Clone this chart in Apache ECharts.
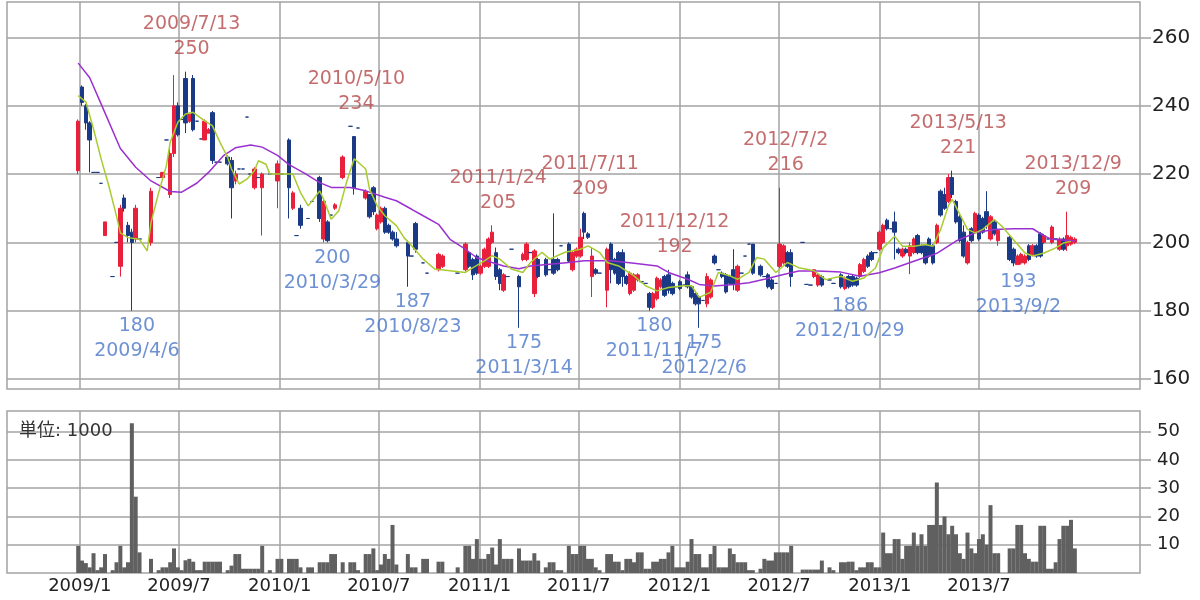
<!DOCTYPE html>
<html><head><meta charset="utf-8">
<script src="https://cdn.jsdelivr.net/npm/echarts@6/dist/echarts.min.js"></script>
<style>html,body{margin:0;padding:0;background:#fff}#c{width:1200px;height:600px}</style>
</head><body><div id="c"></div>
<script>
// Weekly candles, week k = Monday 2008/12/29 + 7k days. Each row: [open, close, low, high] or null (no trade)
const ohlc = [
[221,235.5,220,236],[245.5,241,240,246],[240,235,233,240.5],[235,230,220.5,235.5],[220.5,220.5,220.5,220.5],
[220.5,220.5,220.5,220.5],[217.3,217.3,217.3,217.3],[202,206,202,206],null,[190,190,190,190],
[200,200,200,200],[193,210,190,211],[213,210,209,214],[205,202,200,206],[203,200,180,204],
[201,210,200,211],[201,201,201,201],null,null,[200,215,199,216],
null,[219,219,219,219],[219,220.5,219,220.5],[230,230,230,230],[214,226,213,228],
[226,240,225,249],[240,231.5,231,241],[236,236,236,236],[248,235,232,250],[235.5,237.5,235,238],
[248,233,232.5,249],[235.5,235.5,235.5,235.5],[230.3,230.3,230.3,230.3],[230,235.5,230,236],[232,233,232,233.5],
[238,224,223,238.5],[223.5,223.5,223.5,223.5],[223.5,223.5,223.5,223.5],null,[225,223,222.5,225.5],
[224,216,207,225],[218,220,217,221],[221.5,221.5,221.5,221.5],[221.5,221.5,221.5,221.5],[236.7,236.7,236.7,236.7],
[220,220,220,220],[216,221.5,215.5,222],[219,219,219,219],[216,220,202,220.5],null,
[220,220,220,220],null,[218,223,210,224],[220,220,220,220],null,
[230,216,207,230.5],[210,214.5,209.5,215],[202,202,202,202],[210,205,204,211],null,
[207,207,207,207],[212,212,212,212],null,[219,207,206,219.5],[201,212,200,213],
[206,200.5,200,206.5],[208,208,208,208],[210,211,209.5,211.5],null,[219,225,218.5,225.5],
null,[234,234,234,234],[231,216,214,231],[233.5,233.5,233.5,233.5],null,
[213,215,212.5,215.5],[214,207.5,207,214],[216,209,208,216.5],[204,208,203.5,208.5],[206,210,205.5,210.5],
[210,203,202.5,210.5],[205,203,202.5,205.5],[203,201,200.5,203.5],[201,199,198.5,203],null,
null,[200,196,187,200.5],[196,196,196,196],[205.5,198,197,206],null,
[194,194,194,194],[191,191,191,191],null,null,[192,196.5,191.5,197],
[193,196,192.5,196.5],null,null,null,[191,191,191,191],
null,[192,199.5,191.5,200],[197,193,192.5,197.5],[195,190.5,189,195.5],[196,191,190.5,196.5],
[191,193,190.5,193.5],[193,198,192.5,198.5],[193,201,192.5,201.5],[200,203,199.5,205],[197,190,189,198.5],
[192,188,186,192.5],[186,190.5,185.5,191],[190,190,190,190],[198,198,198,198],null,
[190,187,175,190.5],[195,196.5,194.5,197],[195,199.5,194.5,200],[197,197,197,197],[185,197.5,184,198],
[195,190,189.5,195.5],null,[195,190.5,190,195.5],[192,192,192,192],[195,191,190.5,208.5],
[195,192,191.5,195.5],[199,199,199,199],null,[199.5,194.5,194,200],[192,197,191.5,197.5],
[196,198,195.5,198.5],[196,201.5,195.5,204],[208.5,203,201,209],[202.5,201.5,201,203],[190,196,184,198.5],
[192,191,190.5,192.5],[191,191,191,191],null,[186,198,181,198.5],[199.5,192,188,200],
[195,191,190.5,195.5],[197,188,187.5,197.5],[197,190,187,198],[190,188,187.5,190.5],[185,191,184.5,191.5],
[186,190.5,185.5,191],[189,190.5,188.5,191],[188.5,188.5,188.5,188.5],[188,188,188,188],[185,181,180,185.5],
[181,185,180.5,185.5],[183.5,189.5,183,190],[187,189,186.5,189.5],[190,184.5,184,190.5],[190.5,186,185,192],
[188,185,184.5,188.5],[187,187,187,187],[188.5,186.5,186,189],[187.5,187.5,187.5,187.5],[190.5,187,186.5,191.5],
[187,184,183.5,187.5],[185,182,181.5,185.5],[184,182,175,184.5],[183,183,183,183],[182,190,181,191],
[184,189,183.5,189.5],[196,194,193.5,196.5],[192,192,192,192],[191,190,189.5,191.5],[190.5,185.5,185,191],
[190,188,187.5,190.5],[192,188,186,198],[186,193,185.5,193.5],[191,191,191,191],[196,196,196,196],
[199.5,199.5,199.5,199.5],[199.5,191,190.5,199.5],null,[193,190.5,190,193.5],[190,190,190,190],
[190.5,187,186.5,191],[189,186.5,186,189.5],[188,188,188,188],[193,199.5,192.5,216],[194,199,193.5,199.5],
[197,193,192.5,197.5],[197,190,187,198],null,null,[200,200,200,200],
[187.7,187.7,187.7,187.7],[187.5,187.5,187.5,187.5],[190,192,189.5,192],[187.5,190.5,187,191],[190,187.5,187,190.5],
null,[189,189,189,189],[188,188,188,188],null,[190.5,187,186.5,191],
[186.5,189.5,186,190],[190,187,186.5,190.5],[190,187.5,187,190.5],[189.5,187.5,187,190],[190,193.5,189.5,194],
[191.5,195,191,195.5],[196,193,192.5,196.5],[197,195,194.5,197.5],[197,197,197,197],[198,203,197.5,203.5],
[200,205,199.5,205.5],[206.5,204,203.5,207],[204,204,204,204],[206,203,195,209],[198,197,196.5,198.5],
[196,198,195.5,198.5],[198,197,196.5,198.5],[196,199,190.7,200],[197,201,196.5,201.5],[202,197,196.5,202.5],
[199,197,196.5,199.5],[199,194,193.5,199.5],[201,196,195.5,201.5],[199,194,193.5,199.5],[200,205,199.5,205.5],
[215,208,207.5,215.5],[214,210,209.5,216],[212,219,211.5,220],[219,214,213,221],[212,206,205.5,212.5],
[207.5,200.5,200,208],[203,196,195.5,205],[194,200,193.5,200.5],[204,200.5,200,204.5],[203,208.5,202.5,209],
[208,201,200.5,208.5],[207,203,202.5,207.5],[209,205,204,215],[201,207.5,200.5,208],[206,202.5,202,206.5],
[200.5,203.5,199,204],null,null,[201.5,195,194.5,202],[198,194,193,198.5],
[193.5,196,193.5,196.5],[194,196.5,193.5,197],[194,196,193.5,196.5],[199,195,194.5,199.5],[196.5,199,196,199.5],
[199,196,195.5,199.5],[202.5,196,195.5,203],[200,202,199.5,202.5],[201,201,201,201],[200,204.5,199.5,205],
[201,201,201,201],[198,201,197.5,201.5],[201,198,197.5,201.5],[199,202,197.5,209],[199.5,201.5,199,202],
[200,201,199.5,201.5]
];
// Weekly volume, unit 1000
const volumes = [
9.6,4.4,3.5,2,7,1,2,6.7,0,1, 3.8,9.6,2,3.8,53,27,7.3,0,0,5,
0,1,2,2,3.8,8.7,2,1,4.5,5, 4,1,1,4,4,4,4,4,0,1,
2.6,6.7,6.7,1.5,1.5,1.5,1.5,1.5,9.6,0, 1,0,5,5,0,5,5,5,2,0,
2,2,0,3.8,3.8,3.8,6.7,6.7,0,3.8, 0,3.8,3.8,1,0,6.7,6.7,8.7,1,3,
6.7,5,17,3,0,0,6.7,2,2,0, 5,5,0,0,4,4,0,0,0,2,
0,9.6,9.6,5,12,5,5,6.7,9,3, 12,5,5,5,0,8.7,4.4,4.4,4.4,7,
4.4,0,2,3.8,3.8,1,1,0,9.6,6.7, 6.7,9.6,9.6,5,5,2,1,0,6.7,6.7,
4,4,1,5,5,3.8,7.3,7.3,1.5,1.5, 4,4,5,5,7.3,9.6,2,2,2,4,
12,6.7,6.7,2,2,6.7,9.6,2,2,2, 8.7,6.7,3.8,3.8,3.8,1,1,0,1.5,5,
4.4,4.4,7.3,7.3,7.3,7.3,9.6,0,0,1.2, 1.2,1.2,1.2,1.2,4.4,0,2,1,0,3.8,
3.8,4,4,1,2,2,3.8,3.8,2,2, 14.3,7,7,12,12,5,9.6,9.6,14.3,9.6,
13.7,9.6,17,17,32,17,20,13.7,16.7,13.7, 7,5,14.3,8.7,7,12,13.7,10,24,7,
7,0,0,8.7,8.7,17,17,7,5,4, 4,16.7,16.7,1.5,1.5,3.8,12,16.7,16.7,18.8,
8.7
];
// Moving averages: [week index, value]
const maShort = [[0,243],[2,241.1],[4,233.2],[6,224.4],[8,216.5],[10,207.7],[11,202.8],[13,201.4],[16,200.9],[18,197.5],
[19,205.8],[21,214.6],[23,222.4],[24,229.3],[26,235.2],[28,237.6],[30,238.1],[33,235.6],[35,234.2],[37,229.3],
[39,224.9],[40,221.5],[42,217.1],[44,218.5],[46,221],[47,223.9],[49,222.9],[50,220],[53,220],[56,220],
[58,214.6],[60,210.7],[62,213.6],[63,215.1],[64,212.7],[66,206.8],[68,209.3],[70,217.6],[72,224.5],[75,221.5],
[76,215.6],[78,210.7],[80,207.8],[83,204.9],[85,201.4],[87,199],[90,195.1],[93,192.2],[97,191.7],[101,191.2],
[103,192.6],[106,194.6],[108,196.1],[110,195.1],[113,192.2],[116,191.2],[118,194.1],[121,197.1],[123,195.1],[127,197.1],
[131,198],[133,199],[136,197.1],[138,194.1],[141,193.1],[145,190.2],[148,187.3],[151,185.8],[154,186.8],[158,187.3],
[160,187.3],[162,183.9],[165,185.4],[167,191.2],[170,190.2],[172,189.2],[175,191.2],[177,195.6],[179,195.1],[182,191.2],
[185,194.1],[188,192.6],[192,191.7],[195,189.1],[199,190.1],[202,188.6],[205,189.6],[208,192.5],[210,198.4],[213,201.8],
[215,198.9],[218,198.9],[221,199.4],[223,198.9],[225,203.8],[227,210.7],[228,212.6],[230,208.2],[232,203.8],[234,202.8],
[236,203.8],[239,206.7],[241,204.7],[244,200.8],[247,196.9],[249,196],[252,196.9],[255,198.4],[257,199.8],[259,200.3]];
const maLong = [[0,252.5],[3,248.2],[6,240.5],[11,227.5],[15,222],[19,218],[24,214.9],[27,214.7],[31,217.4],[34,220.5],
[38,225.5],[41,227.7],[45,228.5],[48,227.9],[52,225.5],[55,222.8],[59,220.3],[63,217.5],[66,216.1],[71,216.1],
[75,215.1],[80,213.2],[83,212.2],[87,209.7],[90,207.8],[94,205.3],[97,200.9],[101,198],[104,195.5],[108,194.1],
[111,193.1],[115,192.3],[118,193.1],[123,193.6],[128,194.1],[132,194.6],[139,194.6],[145,193.9],[151,193.1],[154,191.2],
[159,189.2],[162,187.7],[166,187.2],[171,187.7],[175,188.2],[179,189.2],[184,190.6],[188,191.6],[193,191.6],[199,191.3],
[204,190.1],[209,191.1],[213,192.5],[218,194.5],[224,196.8],[229,200.4],[234,202.8],[239,203.8],[244,204],[249,204],
[252,201.9],[254,200.9],[258,200.6],[260,200.4]];
// Annotated highs / lows
const hiDates = ['2009/7/13','2010/5/10','2011/1/24','2011/7/11','2011/12/12','2012/7/2','2013/5/13','2013/12/9'];
const hiValues = [250,234,205,209,192,216,221,209];
const loDates = ['2009/4/6','2010/3/29','2010/8/23','2011/3/14','2011/11/7','2012/2/6','2012/10/29','2013/9/2'];
const loValues = [180,200,187,175,180,175,186,193];
// Axis ticks
const xTicks = ['2009/1','2009/7','2010/1','2010/7','2011/1','2011/7','2012/1','2012/7','2013/1','2013/7'];
const priceTicks = [160,180,200,220,240,260];
const volTicks = [10,20,30,40,50];

const weekTime = k => new Date(2008, 11, 29 + 7 * k).getTime();
const parseDay = s => { const p = s.split('/').map(Number); return new Date(p[0], p[1] - 1, p[2] || 1).getTime(); };
const tickTimes = xTicks.map(parseDay);
const xMin = new Date(2008, 7, 21).getTime();
const xMax = new Date(2014, 3, 21).getTime();

const candleData = [];
ohlc.forEach((r, k) => { if (r) candleData.push([weekTime(k), r[0], r[1], r[2], r[3]]); });
const volData = [];
volumes.forEach((v, k) => { if (v > 0) volData.push([weekTime(k), v]); });

const FONT = 'DejaVu Sans';
const GRID_C = '#a3a3a3';
const UP = '#e8203c', DOWN = '#1b3a86';

function xAxisCfg(gi, showLabel) {
  return {
    type: 'value', gridIndex: gi, min: xMin, max: xMax, scale: true,
    axisLine: { show: false },
    axisTick: { show: false, customValues: tickTimes },
    axisLabel: {
      show: showLabel, customValues: tickTimes, hideOverlap: false,
      formatter: v => { const d = new Date(v); return d.getFullYear() + '/' + (d.getMonth() + 1); },
      color: '#222', fontSize: 18, fontFamily: FONT, margin: 4
    },
    splitLine: { show: true, lineStyle: { color: GRID_C, width: 1.5 } }
  };
}
function yAxisCfg(gi, min, max, ticks, fs, margin) {
  return {
    type: 'value', gridIndex: gi, position: 'right', min, max,
    axisLine: { show: false },
    axisTick: { show: true, inside: false, length: 11, customValues: ticks, lineStyle: { color: GRID_C, width: 1.5 } },
    axisLabel: { customValues: ticks, color: '#222', fontSize: fs, fontFamily: FONT, margin },
    splitLine: { show: true, lineStyle: { color: GRID_C, width: 1.5 } }
  };
}

const chart = echarts.init(document.getElementById('c'), null, { renderer: 'canvas' });
chart.setOption({
  animation: false,
  backgroundColor: '#fff',
  textStyle: { fontFamily: FONT },
  title: { text: '単位: 1000', left: 14, top: 417, textStyle: { fontSize: 18, fontWeight: 'normal', color: '#333', fontFamily: "'DejaVu Sans', 'Noto Sans CJK JP'" } },
  grid: [
    { left: 7, top: 2, width: 1133, height: 387, show: true, borderColor: GRID_C, borderWidth: 1.5 },
    { left: 7, top: 411, width: 1133, height: 162, show: true, borderColor: GRID_C, borderWidth: 1.5 }
  ],
  xAxis: [xAxisCfg(0, false), xAxisCfg(1, true)],
  yAxis: [yAxisCfg(0, 157.07, 270.4, priceTicks, 20, 12), yAxisCfg(1, 0, 57.3, volTicks, 18, 17)],
  series: [
    {
      type: 'candlestick', xAxisIndex: 0, yAxisIndex: 0, data: candleData,
      encode: { x: 0, y: [1, 2, 3, 4] }, barWidth: 4,
      itemStyle: { color: UP, color0: DOWN, borderColor: UP, borderColor0: DOWN, borderColorDoji: DOWN, borderWidth: 1 }
    },
    {
      type: 'line', xAxisIndex: 0, yAxisIndex: 0, data: maLong.map(p => [weekTime(p[0]), p[1]]),
      showSymbol: false, smooth: false, lineStyle: { color: '#9b30d0', width: 1.5 }, z: 3
    },
    {
      type: 'line', xAxisIndex: 0, yAxisIndex: 0, data: maShort.map(p => [weekTime(p[0]), p[1]]),
      showSymbol: false, smooth: false, lineStyle: { color: '#a8cc30', width: 1.5 }, z: 4
    },
    {
      type: 'scatter', xAxisIndex: 0, yAxisIndex: 0, symbolSize: 0, silent: true, z: 5,
      data: hiDates.map((d, i) => ({ name: d, value: [parseDay(d), hiValues[i]] })),
      label: { show: true, position: 'top', distance: 10, offset: [6, 0], color: '#b5484a', fontSize: 19, lineHeight: 25, align: 'center',
        formatter: p => p.name + '\n' + p.value[1] }
    },
    {
      type: 'scatter', xAxisIndex: 0, yAxisIndex: 0, symbolSize: 0, silent: true, z: 5,
      data: loDates.map((d, i) => ({ name: d, value: [parseDay(d), loValues[i]] })),
      label: { show: true, position: 'bottom', distance: 3, offset: [5, 0], color: '#4a76c8', fontSize: 19, lineHeight: 25, align: 'center',
        formatter: p => p.value[1] + '\n' + p.name }
    },
    {
      type: 'bar', xAxisIndex: 1, yAxisIndex: 1, data: volData, barWidth: 4,
      itemStyle: { color: '#606060' }
    }
  ]
});
</script></body></html>
